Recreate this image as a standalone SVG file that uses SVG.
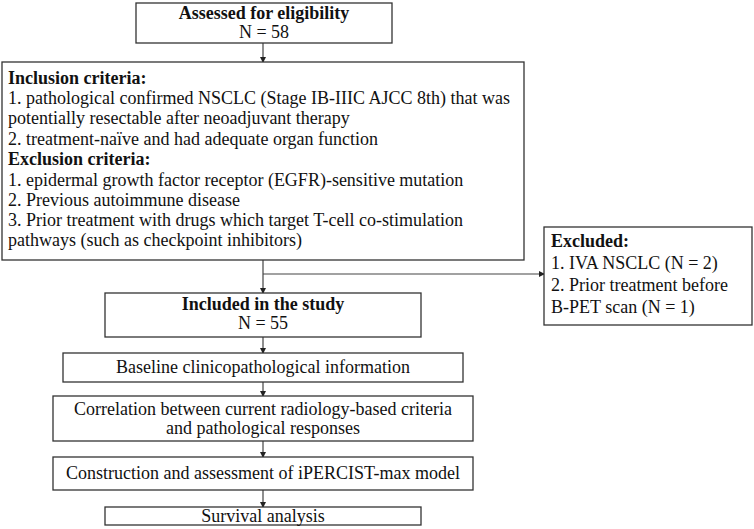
<svg xmlns="http://www.w3.org/2000/svg" width="754" height="529" viewBox="0 0 754 529">
<defs>
<marker id="ah" markerWidth="6" markerHeight="6" refX="5" refY="3" orient="auto" markerUnits="userSpaceOnUse">
<path d="M0,0 L6,3 L0,6 Z" fill="#222"/>
</marker>
<style>
.box{fill:#fff;stroke:#333;stroke-width:1.3}
.t{font-family:"Liberation Serif","Times New Roman",serif;font-size:18px;fill:#111}
.b{font-weight:bold}
.c{text-anchor:middle}
.ln{stroke:#444;stroke-width:1.2;fill:none}
</style>
</defs>
<rect width="754" height="529" fill="#fff"/>
<g id="connectors">
<line class="ln" x1="263" y1="43" x2="263" y2="62" marker-end="url(#ah)"/>
<line class="ln" x1="263" y1="260" x2="263" y2="293" marker-end="url(#ah)"/>
<line class="ln" x1="263" y1="274" x2="544" y2="274" marker-end="url(#ah)"/>
<line class="ln" x1="263" y1="337" x2="263" y2="353" marker-end="url(#ah)"/>
<line class="ln" x1="263" y1="382" x2="263" y2="396" marker-end="url(#ah)"/>
<line class="ln" x1="263" y1="441" x2="263" y2="457" marker-end="url(#ah)"/>
<line class="ln" x1="263" y1="490" x2="263" y2="507" marker-end="url(#ah)"/>
</g>
<g id="assessed">
<rect class="box" x="136" y="3" width="256" height="40"/>
<text class="t b c" x="264" y="19">Assessed for eligibility</text>
<text class="t c" x="264" y="38">N = 58</text>
</g>
<g id="criteria">
<rect class="box" x="2" y="62" width="522" height="198"/>
<text class="t b" x="8" y="84">Inclusion criteria:</text>
<text class="t" x="8" y="104">1. pathological confirmed NSCLC (Stage IB-IIIC AJCC 8th) that was</text>
<text class="t" x="8" y="124">potentially resectable after neoadjuvant therapy</text>
<text class="t" x="8" y="145">2. treatment-naïve and had adequate organ function</text>
<text class="t b" x="8" y="165">Exclusion criteria:</text>
<text class="t" x="8" y="186">1. epidermal growth factor receptor (EGFR)-sensitive mutation</text>
<text class="t" x="8" y="206">2. Previous autoimmune disease</text>
<text class="t" x="8" y="226">3. Prior treatment with drugs which target T-cell co-stimulation</text>
<text class="t" x="8" y="246">pathways (such as checkpoint inhibitors)</text>
</g>
<g id="excluded">
<rect class="box" x="544" y="227" width="208" height="98"/>
<text class="t b" x="551" y="247">Excluded:</text>
<text class="t" x="551" y="269">1. IVA NSCLC (N = 2)</text>
<text class="t" x="551" y="291">2. Prior treatment before</text>
<text class="t" x="551" y="313">B-PET scan (N = 1)</text>
</g>
<g id="included">
<rect class="box" x="105" y="293" width="316" height="44"/>
<text class="t b c" x="263" y="310">Included in the study</text>
<text class="t c" x="263" y="329">N = 55</text>
</g>
<g id="baseline">
<rect class="box" x="63" y="353" width="400" height="29"/>
<text class="t c" x="263" y="373">Baseline clinicopathological information</text>
</g>
<g id="correlation">
<rect class="box" x="53" y="396" width="420" height="45"/>
<text class="t c" x="263" y="415">Correlation between current radiology-based criteria</text>
<text class="t c" x="263" y="434">and pathological responses</text>
</g>
<g id="construction">
<rect class="box" x="53" y="457" width="420" height="33"/>
<text class="t c" x="263" y="479">Construction and assessment of iPERCIST-max model</text>
</g>
<g id="survival">
<rect class="box" x="105" y="507" width="316" height="18"/>
<text class="t c" x="263" y="522">Survival analysis</text>
</g>
</svg>
